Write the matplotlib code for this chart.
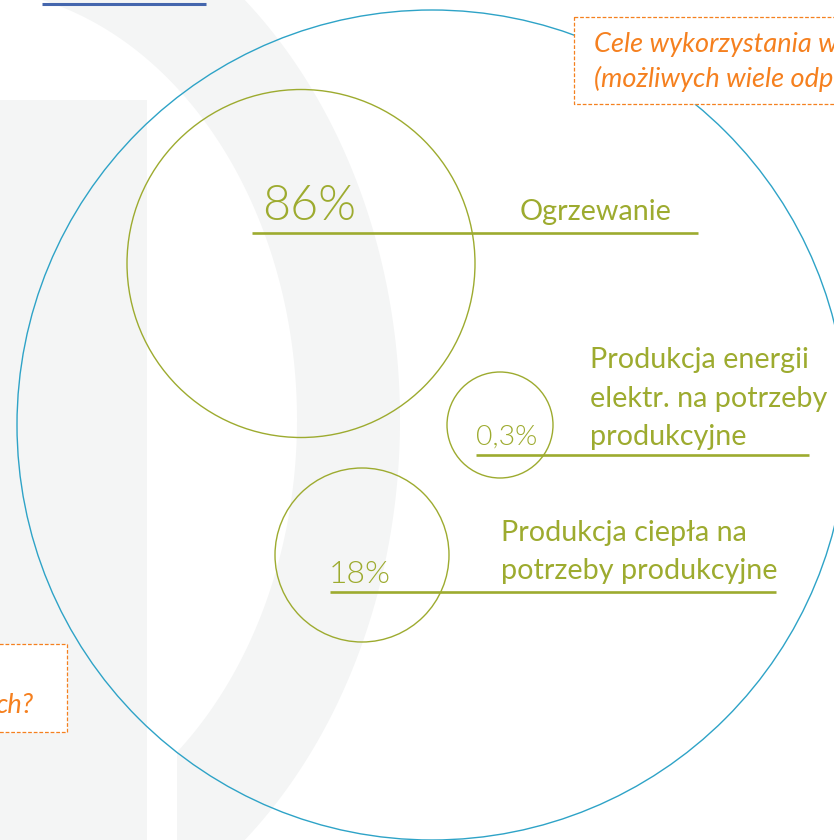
import numpy as np
import matplotlib
matplotlib.use("Agg")
import matplotlib.pyplot as plt
from matplotlib.patches import Circle, Rectangle, Polygon

plt.rcParams['font.family'] = ['Lato', 'DejaVu Sans']

# ---- data ----
percent_labels = ["86%", "0,3%", "18%"]
category_labels = ["Ogrzewanie",
                   "Produkcja energii\nelektr. na potrzeby\nprodukcyjne",
                   "Produkcja ciepła na\npotrzeby produkcyjne"]
question_top = ["Cele wykorzystania w", "(możliwych wiele odp"]
question_left = "ch?"

# ---- layout (pixel coordinates, y downwards) ----
circle_xy = [(301, 263.5), (500, 425), (362, 555)]
circle_r = [174, 53, 87]
line_y = [233, 455, 592]
line_x0 = [252, 476, 330]
line_x1 = [698, 809, 776]
pct_xy = [(262, 220), (476, 445), (329, 583)]
pct_size = [35, 20.5, 23]
lab_xy = [(520, 220), (590, 445), (501, 579)]
lab_size = [20.7, 20.7, 20.7]
LINE_STEP = 38.5

GREEN = '#9dab2f'
BLUE = '#2ea3c7'
ORANGE = '#f5801f'
GRAY = '#f4f5f5'

fig = plt.figure(figsize=(8.34, 8.40), dpi=100)
ax = fig.add_axes([0, 0, 1, 1])
ax.set_xlim(0, 834)
ax.set_ylim(840, 0)
ax.axis('off')

# watermark background (faint logo shapes)
ax.add_patch(Rectangle((0, 100), 147, 740, facecolor=GRAY, edgecolor='none', zorder=0))
yy = np.linspace(0, 840, 400)
dy = yy - 420
xin = -36 + 333 * np.sqrt(np.clip(1 - (dy / 432) ** 2, 0, None))
xin = np.where(yy > 420, np.maximum(xin, 177), xin)
xout = -36 + 436 * np.sqrt(np.clip(1 - (dy / 549) ** 2, 0, None))
poly = np.vstack([np.column_stack([xin, yy]), np.column_stack([xout[::-1], yy[::-1]])])
ax.add_patch(Polygon(poly, closed=True, facecolor=GRAY, edgecolor='none', zorder=0))

# top-left blue line
ax.plot([42, 206], [4, 4], color='#4466ad', lw=2.2, solid_capstyle='butt', zorder=2)

# big blue circle
ax.add_patch(Circle((432, 425), 415, facecolor='none', edgecolor=BLUE, lw=1.0, zorder=1))

# green bubbles
for (cx, cy), r in zip(circle_xy, circle_r):
    ax.add_patch(Circle((cx, cy), r, facecolor='none', edgecolor=GREEN, lw=1.0, zorder=3))
for y, x0, x1 in zip(line_y, line_x0, line_x1):
    ax.plot([x0, x1], [y, y], color=GREEN, lw=1.9, solid_capstyle='butt', zorder=3)
for (x, y), t, s in zip(pct_xy, percent_labels, pct_size):
    ax.text(x, y, t, color=GREEN, fontsize=s, fontweight=300, ha='left', va='baseline', zorder=4)
for (x, y), t, s in zip(lab_xy, category_labels, lab_size):
    lines = t.split('\n')
    n = len(lines)
    for i, ln in enumerate(lines):
        ax.text(x, y - (n - 1 - i) * LINE_STEP, ln, color=GREEN, fontsize=s,
                ha='left', va='baseline', zorder=4)

# orange dashed boxes
ax.add_patch(Rectangle((574, 17), 300, 87, facecolor='white', edgecolor=ORANGE, lw=0.9,
                       linestyle=(0, (3, 1.5)), zorder=5))
ax.text(594, 52, question_top[0], color=ORANGE, fontsize=19.5, style='italic', va='baseline', zorder=6)
ax.text(594, 87, question_top[1], color=ORANGE, fontsize=19.5, style='italic', va='baseline', zorder=6)
ax.add_patch(Rectangle((-40, 644), 107, 88, facecolor='white', edgecolor=ORANGE, lw=0.9,
                       linestyle=(0, (3, 1.5)), zorder=5))
ax.text(33, 713, question_left, color=ORANGE, fontsize=19.5, style='italic', ha='right',
        va='baseline', zorder=6)

fig.savefig('out.png', dpi=100)
